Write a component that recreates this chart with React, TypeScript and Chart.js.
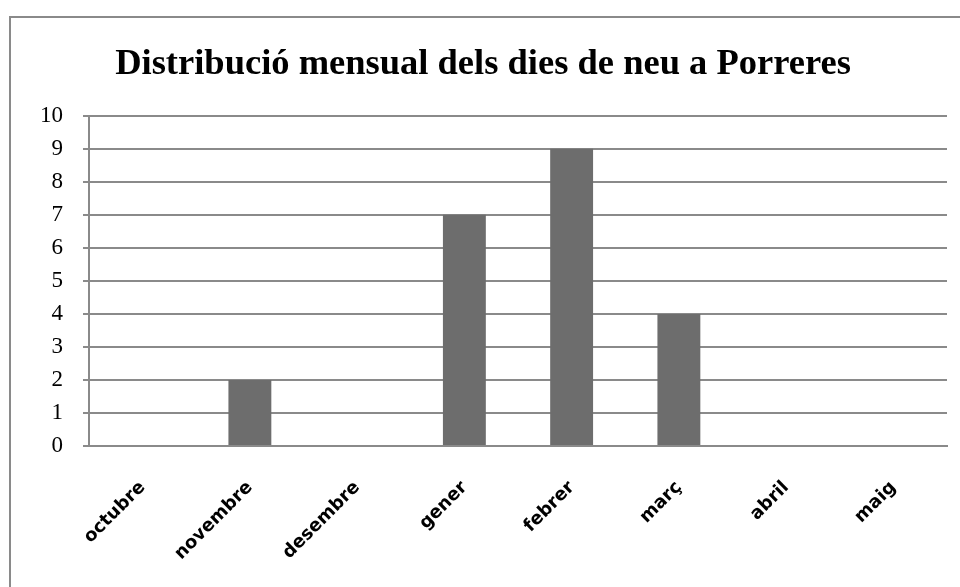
import React, { useEffect, useRef } from "react";
import { Chart, registerables } from "chart.js";

Chart.register(...registerables);

const categories = ["octubre", "novembre", "desembre", "gener", "febrer", "març", "abril", "maig"];
const snowDays = [0, 2, 0, 7, 9, 4, 0, 0];
const yTickValues = [0, 1, 2, 3, 4, 5, 6, 7, 8, 9, 10];
const titleText = "Distribució mensual dels dies de neu a Porreres";

const framePlugin = {
  id: "frame",
  beforeDraw(chart: any) {
    const ctx = chart.ctx;
    ctx.save();
    ctx.fillStyle = "#ffffff";
    ctx.fillRect(0, 0, chart.width, chart.height);
    ctx.strokeStyle = "#8a8a8a";
    ctx.lineWidth = 2;
    ctx.strokeRect(10, 17, chart.width + 20, chart.height + 20);
    ctx.restore();
  },
};

export default function App() {
  const ref = useRef<HTMLCanvasElement | null>(null);
  useEffect(() => {
    if (!ref.current) return;
    const chart = new Chart(ref.current, {
      type: "bar",
      data: {
        labels: categories,
        datasets: [
          {
            data: snowDays,
            backgroundColor: "#6d6d6d",
            borderWidth: 0,
            barPercentage: 0.8,
            categoryPercentage: 0.5,
          },
        ],
      },
      plugins: [framePlugin],
      options: {
        responsive: false,
        animation: false,
        layout: { padding: { left: 19, right: 13, top: 0, bottom: 0 } },
        plugins: {
          legend: { display: false },
          tooltip: { enabled: false },
          title: {
            display: true,
            text: titleText,
            color: "#000000",
            font: { family: "'Liberation Serif', 'Times New Roman', serif", size: 36.5, weight: "bold" },
            padding: { top: 43, bottom: 29 },
          },
        },
        scales: {
          x: {
            grid: { display: false },
            border: { display: true, color: "#8a8a8a", width: 2 },
            ticks: {
              color: "#000000",
              maxRotation: 45,
              minRotation: 45,
              padding: 23,
              font: { family: "'DejaVu Sans', sans-serif", size: 18, weight: "bold" },
            },
            afterFit(scale: any) {
              scale.height = 141;
            },
          },
          y: {
            min: 0,
            max: 10,
            afterBuildTicks(scale: any) {
              scale.ticks = yTickValues.map((v) => ({ value: v }));
            },
            grid: { color: "#8a8a8a", lineWidth: 2, drawTicks: true, tickLength: 6 },
            border: { display: true, color: "#8a8a8a", width: 2 },
            ticks: {
              color: "#000000",
              padding: 20,
              font: { family: "'Liberation Serif', 'Times New Roman', serif", size: 23 },
            },
            afterFit(scale: any) {
              scale.width = 70;
            },
          },
        },
      },
    });
    return () => chart.destroy();
  }, []);
  return (
    <div style={{ position: "fixed", left: 0, top: 0, width: 960, height: 587, overflow: "hidden", background: "#fff" }}>
      <canvas ref={ref} width={960} height={587} style={{ display: "block" }} />
    </div>
  );
}
